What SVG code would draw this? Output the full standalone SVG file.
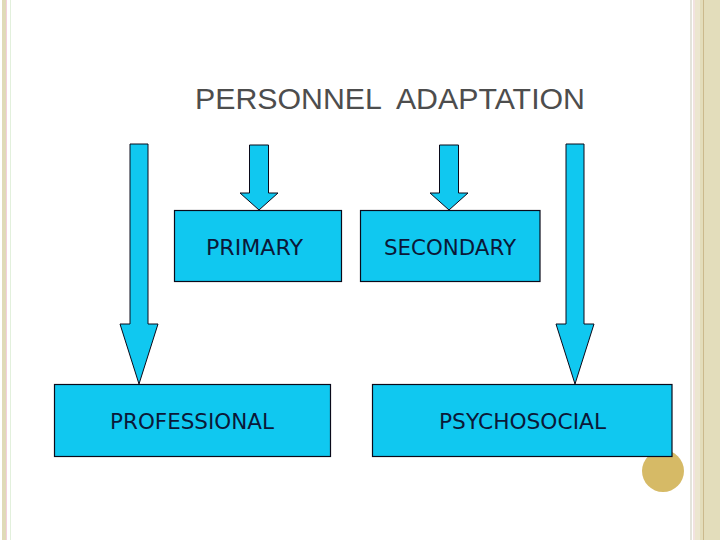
<svg xmlns="http://www.w3.org/2000/svg" width="720" height="540" viewBox="0 0 720 540">
<style>
.box{fill:#10c8f0;stroke:#0a0a1a;stroke-width:1.2}
.arr{fill:#10c8f0;stroke:#0a0a1a;stroke-width:1}
.lbl{font-family:"DejaVu Sans","Liberation Sans",sans-serif;font-size:21px;fill:#0b1838;text-anchor:middle}
.title{font-family:"Liberation Sans",Arial,sans-serif;font-size:29px;fill:#4d4d4d}
</style>
<rect width="720" height="540" fill="#ffffff"/>
<g id="frame">
<rect x="2" y="0" width="4" height="540" fill="#e0dab8"/>
<rect x="6" y="0" width="1" height="540" fill="#f2d0dc"/>
<rect x="10" y="0" width="1" height="540" fill="#e2f0dc"/>
<rect x="690" y="0" width="2" height="540" fill="#e4e4dc"/>
<rect x="693" y="0" width="2" height="540" fill="#f2e2e0"/>
<rect x="695" y="0" width="5" height="540" fill="#ece6d0"/>
<rect x="700" y="0" width="20" height="540" fill="#e3ddbb"/>
<rect x="703" y="0" width="1" height="540" fill="#cbb98c"/>
<circle cx="663" cy="471" r="21" fill="#d6ba66"/>
</g>
<g id="title"><text class="title" x="195" y="109" textLength="390" lengthAdjust="spacingAndGlyphs" xml:space="preserve">PERSONNEL  ADAPTATION</text></g>
<g id="connectors">
<polygon class="arr" points="130,144 148,144 148,324 158,324 139,384 120,324 130,324"/>
<polygon class="arr" points="249.5,145 268.5,145 268.5,193 278,193 259,210 240,193 249.5,193"/>
<polygon class="arr" points="439.5,145 458.5,145 458.5,193 468,193 449,210 430,193 439.5,193"/>
<polygon class="arr" points="566,144 584,144 584,324 594,324 575,384 556,324 566,324"/>
</g>
<g id="primary"><rect class="box" x="174.5" y="210.5" width="167" height="71"/><text class="lbl" x="254.5" y="255" textLength="97" lengthAdjust="spacingAndGlyphs">PRIMARY</text></g>
<g id="secondary"><rect class="box" x="360.5" y="210.5" width="179.5" height="71"/><text class="lbl" x="450" y="255" textLength="132" lengthAdjust="spacingAndGlyphs">SECONDARY</text></g>
<g id="professional"><rect class="box" x="54.5" y="384.5" width="276" height="72"/><text class="lbl" x="192" y="429" textLength="164" lengthAdjust="spacingAndGlyphs">PROFESSIONAL</text></g>
<g id="psychosocial"><rect class="box" x="372.5" y="384.5" width="299.5" height="72"/><text class="lbl" x="522.5" y="429" textLength="167" lengthAdjust="spacingAndGlyphs">PSYCHOSOCIAL</text></g>
</svg>
